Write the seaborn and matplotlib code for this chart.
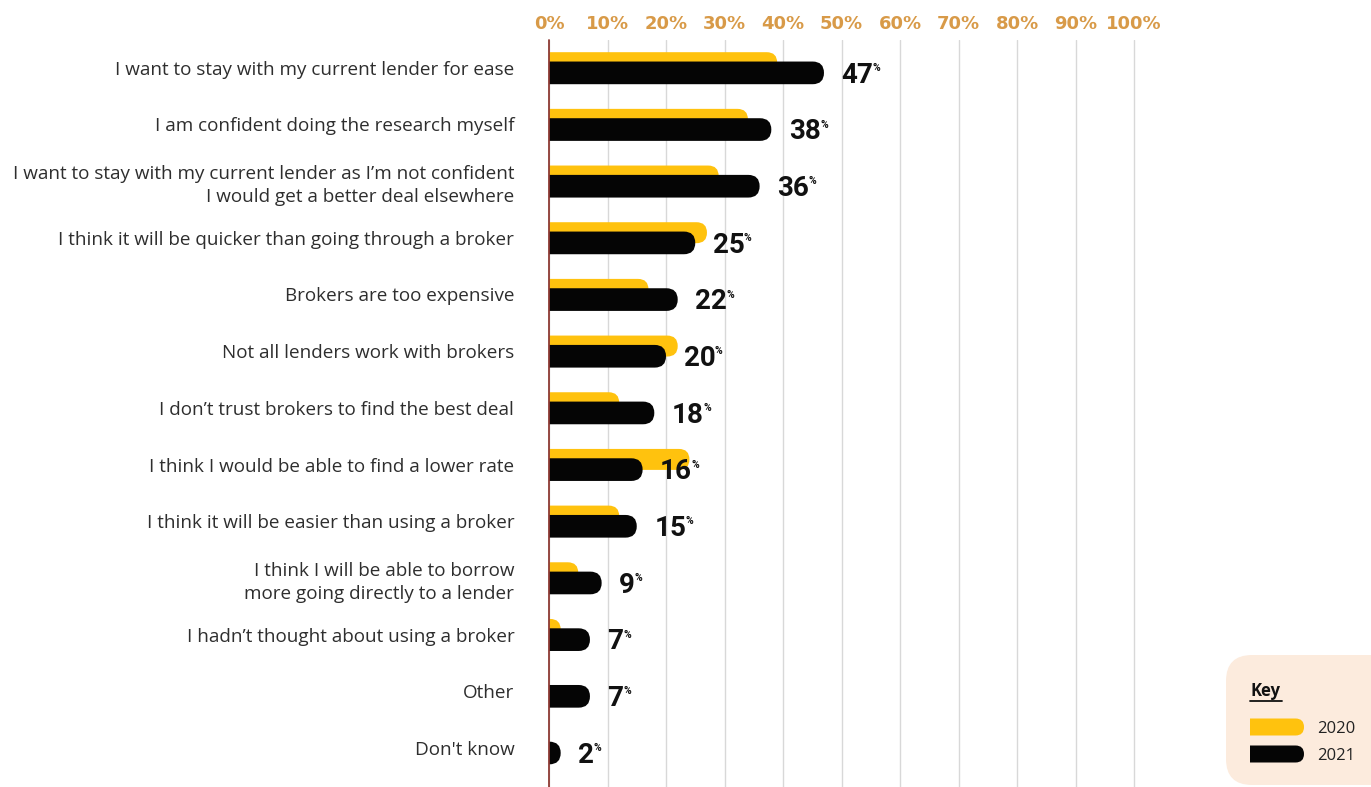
import numpy as np
import pandas as pd
import matplotlib
matplotlib.use("Agg")
import matplotlib.pyplot as plt
import seaborn as sns
from matplotlib.patches import FancyBboxPatch, Rectangle

# ---------------- data ----------------
categories = [
    "I want to stay with my current lender for ease",
    "I am confident doing the research myself",
    "I want to stay with my current lender as I\u2019m not confident\nI would get a better deal elsewhere",
    "I think it will be quicker than going through a broker",
    "Brokers are too expensive",
    "Not all lenders work with brokers",
    "I don\u2019t trust brokers to find the best deal",
    "I think I would be able to find a lower rate",
    "I think it will be easier than using a broker",
    "I think I will be able to borrow\nmore going directly to a lender",
    "I hadn\u2019t thought about using a broker",
    "Other",
    "Don't know",
]
values_2020 = [39, 34, 29, 27, 17, 22, 12, 24, 12, 5, 2, 0, 0]
values_2021 = [47, 38, 36, 25, 22, 20, 18, 16, 15, 9, 7, 7, 2]
tick_values = list(range(0, 101, 10))
tick_labels = [f"{v}%" for v in tick_values]
series_names = ["2020", "2021"]

YELLOW = "#FFC20E"
BLACK = "#050505"
TICK_COL = "#D89A48"
TEXT_COL = "#2e2e2e"

sns.set_theme(style="white")
plt.rcParams["font.family"] = ["Open Sans", "DejaVu Sans"]

W, H = 1371, 787
fig = plt.figure(figsize=(W / 100, H / 100), dpi=100)
ax_left, ax_right, ax_top = 549, 1137, 40
ax = fig.add_axes([ax_left / W, 0, (ax_right - ax_left) / W, (H - ax_top) / H])

df = pd.DataFrame({"category": categories, "2020": values_2020, "2021": values_2021})

h20, h21 = 0.37, 0.40
sns.barplot(data=df, x="2020", y="category", color=YELLOW, width=h20,
            orient="h", ax=ax, saturation=1)
n20 = len(ax.patches)
sns.barplot(data=df, x="2021", y="category", color=BLACK, width=h21,
            orient="h", ax=ax, saturation=1)

xmin, xmax = 0, 100.5
ymin, ymax = 12.69, -0.49
ax.set_xlim(xmin, xmax)
ax.set_ylim(ymin, ymax)

px_x = (ax_right - ax_left) / (xmax - xmin)
px_y = (H - ax_top) / (ymin - ymax)

# replace bars with right-rounded bars
for i, p in enumerate(list(ax.patches)):
    x, y, w, h = p.get_x(), p.get_y(), p.get_width(), p.get_height()
    is20 = i < n20
    fc = YELLOW if is20 else BLACK
    p.remove()
    if w <= 0:
        continue
    shift = -0.09 if is20 else 0.09
    ry = h / 2
    rx = ry * px_y / px_x
    fb = FancyBboxPatch((x - rx, y + shift), w + rx, h,
                        boxstyle=f"round,pad=0,rounding_size={rx}",
                        mutation_aspect=ry / rx, fc=fc, ec="none",
                        zorder=2 if is20 else 3)
    ax.add_patch(fb)

# value labels
for i, v in enumerate(values_2021):
    t = ax.text(v + 3.0, i + 0.13, str(v), fontsize=20, fontweight="bold",
                family=["Roboto", "DejaVu Sans"],
                color="#111111", va="center", ha="left", zorder=5)
    ax.annotate("%", xy=(0.98, 0.95), xycoords=t, fontsize=7.5, fontweight="bold",
                family=["Roboto", "DejaVu Sans"],
                color="#111111", va="top", ha="left", zorder=5)

# axes styling
ax.set_xticks(tick_values)
ax.set_xticklabels(tick_labels)
ax.xaxis.tick_top()
ax.tick_params(axis="x", length=0, pad=5, labelsize=13, labelcolor=TICK_COL)
for lab in ax.get_xticklabels():
    lab.set_fontweight("bold")
    lab.set_family(["DejaVu Sans"])
ax.grid(axis="x", color="#d8d8d8", lw=1.0, zorder=0)
ax.grid(axis="y", visible=False)
ax.set_axisbelow(True)
for s in ax.spines.values():
    s.set_visible(False)
ax.axvline(0, color="#8E3A34", lw=1.3, zorder=4, clip_on=False)

ax.set_yticks(range(len(categories)))
ax.set_yticklabels(categories)
ax.tick_params(axis="y", length=0, pad=25, labelsize=13.6, labelcolor=TEXT_COL)
for lab in ax.get_yticklabels():
    lab.set_multialignment("right")
    lab.set_linespacing(1.35)
ax.set_xlabel("")
ax.set_ylabel("")

# ---------------- key box ----------------
lax = fig.add_axes([0, 0, 1, 1], facecolor="none")
lax.set_xlim(0, W)
lax.set_ylim(H, 0)
lax.axis("off")
lax.add_patch(FancyBboxPatch((1226, 655), 200, 130,
                             boxstyle="round,pad=0,rounding_size=26",
                             fc="#FCEBDD", ec="none"))
lax.text(1251, 691, "Key", fontsize=12, fontweight="bold", color="#111111",
         va="center", ha="left")
lax.plot([1250, 1282], [701, 701], color="#111111", lw=1.3)
for name, col, yc in zip(series_names, [YELLOW, BLACK], [727, 754]):
    bar = FancyBboxPatch((1230, yc - 8.5), 74, 17,
                         boxstyle="round,pad=0,rounding_size=8.5",
                         fc=col, ec="none")
    lax.add_patch(bar)
    clip = Rectangle((1250, yc - 12), 70, 24, transform=lax.transData)
    bar.set_clip_path(clip)
    lax.text(1317, yc + 2, name, fontsize=12, color="#222222",
             va="center", ha="left")

fig.savefig("out.png", dpi=100, facecolor="white")
